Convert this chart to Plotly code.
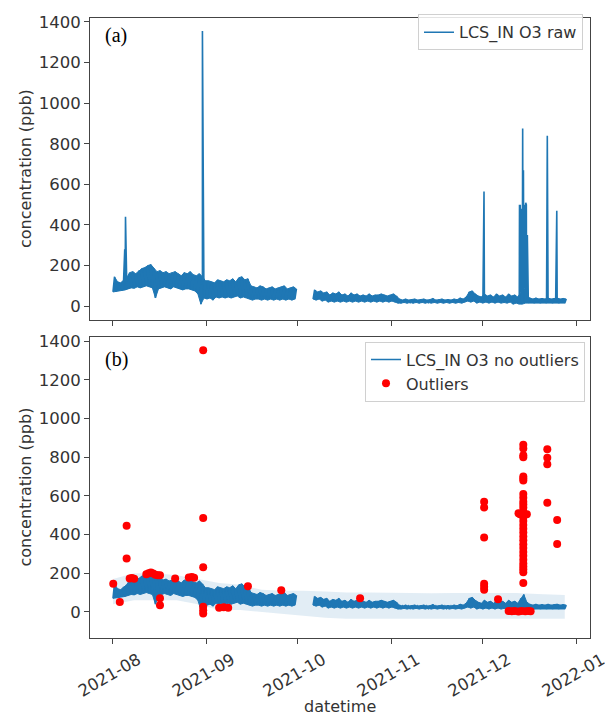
import pandas as pd
import plotly.graph_objects as go
from plotly.subplots import make_subplots

# ---------------- data ----------------
# daily low / high envelope of the noisy O3 signal
aug_lo = [70, 72, 75, 78, 80, 85, 90, 88, 95, 90, 95, 100, 95, 90, 40, 85, 90, 95, 90, 85,
          95, 90, 85, 80, 85, 85, 80, 75, 60, 10, 40]
aug_hi = [145, 120, 115, 130, 140, 165, 170, 160, 175, 185, 190, 200, 205, 185, 170, 175, 165, 170, 160, 165,
          170, 160, 150, 165, 160, 170, 155, 150, 160, 145, 125]
sep_lo = [35, 40, 30, 45, 40, 45, 40, 45, 40, 45, 50, 40, 45, 40, 35, 30, 35, 35, 30, 35,
          30, 35, 30, 35, 30, 35, 30, 35, 30, 35]
sep_hi = [125, 120, 115, 130, 125, 120, 130, 125, 135, 120, 140, 145, 130, 135, 100, 95, 90, 100, 95, 85,
          90, 95, 85, 90, 95, 100, 85, 90, 95, 85]
# Oct 6-31 (sensor gap Oct 1-5)
oct_lo = [35, 30, 35, 25, 30, 20, 25, 20, 25, 20, 25, 20, 25, 20, 25, 20, 25, 20, 25, 20, 25, 20, 25, 20, 25, 20]
oct_hi = [80, 70, 75, 65, 70, 55, 65, 60, 70, 55, 60, 50, 65, 55, 60, 50, 55, 50, 60, 50, 55, 55, 60, 55, 50, 55]
nov_lo = [25, 20, 15, 15, 18, 15, 18, 15, 18, 15, 18, 15, 18, 15, 18, 15, 18, 15, 18, 15,
          18, 15, 18, 15, 20, 25, 20, 25, 15, 20]
nov_hi = [60, 50, 35, 30, 35, 30, 32, 35, 30, 32, 35, 30, 32, 38, 30, 32, 35, 30, 33, 30,
          35, 32, 40, 35, 45, 70, 75, 60, 50, 45]
# Dec 1-28
dec_lo = [15, 20, 15, 20, 15, 20, 15, 18, 15, 20, 10, 15, 10, 10, 15, 15, 18, 15, 18, 15,
          18, 15, 18, 15, 18, 15, 18, 15]
dec_hi = [60, 50, 55, 45, 60, 50, 55, 45, 60, 50, 55, 45, 70, 90, 50, 40, 35, 40, 35, 38,
          35, 40, 35, 38, 40, 35, 38, 35]
seg1_start = "2021-08-01"
seg2_start = "2021-10-06"

# spikes present only in the raw series
spike_times = ["2021-08-04 21:00", "2021-08-05 03:00", "2021-08-30 12:00", "2021-12-01 09:00",
               "2021-12-13 02:00", "2021-12-13 05:00", "2021-12-13 08:00", "2021-12-13 16:00",
               "2021-12-13 20:00", "2021-12-14 03:00", "2021-12-14 06:00", "2021-12-14 09:00",
               "2021-12-14 14:00", "2021-12-14 18:00", "2021-12-14 21:00", "2021-12-15 03:00",
               "2021-12-15 08:00", "2021-12-15 10:00", "2021-12-15 16:00", "2021-12-22 06:00",
               "2021-12-25 09:00"]
spike_vals = [280, 440, 1355, 565,
              500, 20, 500, 480,
              25, 875, 30, 670,
              360, 500, 20, 510,
              500, 20, 350, 840,
              470]

# detected outliers
out_times = ["2021-08-01 02:00", "2021-08-03 06:00", "2021-08-05 12:00", "2021-08-05 12:00",
             "2021-08-06 12:00", "2021-08-07 06:00", "2021-08-08 00:00",
             "2021-08-12 00:00", "2021-08-12 18:00", "2021-08-13 12:00", "2021-08-14 06:00",
             "2021-08-15 00:00", "2021-08-15 18:00", "2021-08-16 12:00", "2021-08-16 12:00",
             "2021-08-16 12:00", "2021-08-21 12:00", "2021-08-26 00:00", "2021-08-27 00:00",
             "2021-08-27 18:00",
             "2021-08-30 18:00", "2021-08-30 18:00", "2021-08-30 18:00", "2021-08-30 18:00",
             "2021-08-30 18:00", "2021-08-30 18:00",
             "2021-09-05 00:00", "2021-09-06 12:00", "2021-09-08 00:00", "2021-09-14 12:00",
             "2021-09-25 12:00", "2021-10-21 12:00",
             "2021-12-01 10:00", "2021-12-01 10:00", "2021-12-01 10:00", "2021-12-01 10:00",
             "2021-12-01 10:00", "2021-12-01 10:00",
             "2021-12-06 00:00",
             "2021-12-09 12:00", "2021-12-10 12:00", "2021-12-11 12:00", "2021-12-12 18:00",
             "2021-12-13 18:00", "2021-12-15 00:00", "2021-12-16 00:00", "2021-12-16 18:00",
             "2021-12-22 06:00", "2021-12-22 06:00", "2021-12-22 06:00", "2021-12-22 06:00",
             "2021-12-25 12:00", "2021-12-25 12:00"]
out_vals = [146, 51, 445, 276,
            173, 175, 172,
            195, 200, 204, 198,
            192, 190, 189, 70,
            34, 173, 178, 180,
            176,
            1353, 485, 231, 26,
            8, -8,
            22, 24, 22, 132,
            112, 70,
            570, 540, 385, 146,
            130, 115,
            65,
            5, 3, 5, 2,
            4, 3, 5, 3,
            841, 797, 763, 565,
            475, 351]
# the dense column of outliers on 2021-12-14
col_time = "2021-12-14 08:00"
col_vals = [865, 845, 810, 800, 700, 690, 680, 610, 590, 570, 555, 540, 520, 509, 490, 470,
            450, 430, 410, 390, 370, 350, 330, 310, 290, 270, 250, 235, 220, 205, 150]
col_side_times = ["2021-12-13 06:00", "2021-12-15 12:00", "2021-12-12 18:00"]
col_side_vals = [505, 505, 510]

# smooth band around the cleaned series (lower / upper)
band_dates = ["2021-08-01", "2021-08-08", "2021-08-15", "2021-08-22", "2021-08-29", "2021-09-05",
              "2021-09-12", "2021-09-19", "2021-09-26", "2021-10-03", "2021-10-10", "2021-10-17",
              "2021-10-24", "2021-10-31", "2021-11-07", "2021-11-14", "2021-11-21", "2021-11-28",
              "2021-12-05", "2021-12-12", "2021-12-19", "2021-12-28"]
band_lo = [40, 60, 60, 60, 40, 10, 10, 0, -10, -20, -30, -35, -35, -35, -38, -38, -38, -38, -38, -36, -35, -35]
band_hi = [170, 200, 200, 190, 170, 150, 140, 115, 110, 110, 105, 100, 100, 98, 96, 96, 98, 98, 96, 98, 92, 88]

tick_vals = ["2021-08-01", "2021-09-01", "2021-10-01", "2021-11-01", "2021-12-01", "2022-01-01"]
tick_text = ["2021-08", "2021-09", "2021-10", "2021-11", "2021-12", "2022-01"]
y_ticks = [0, 200, 400, 600, 800, 1000, 1200, 1400]

# ---------------- build series ----------------
seg1_lo, seg1_hi = aug_lo + sep_lo, aug_hi + sep_hi
seg2_lo, seg2_hi = oct_lo + nov_lo + dec_lo, oct_hi + nov_hi + dec_hi


def zigzag(start, lo, hi):
    days = pd.date_range(start, periods=len(lo), freq="D")
    pts = []
    for d, a, b in zip(days, lo, hi):
        pts.append((d, a))
        pts.append((d + pd.Timedelta(hours=12), b))
    return pts


def envelope(start, lo, hi):
    days = pd.date_range(start, periods=len(lo), freq="D")
    return list(days), list(lo), [d + pd.Timedelta(hours=12) for d in days], list(hi)


seg1 = zigzag(seg1_start, seg1_lo, seg1_hi)
seg2 = zigzag(seg2_start, seg2_lo, seg2_hi)
spikes = [(pd.Timestamp(t), v) for t, v in zip(spike_times, spike_vals)]
gap_end = pd.Timestamp(seg2_start)
raw1 = sorted(seg1 + [p for p in spikes if p[0] < gap_end])
raw2 = sorted(seg2 + [p for p in spikes if p[0] >= gap_end])


def join(a, b):
    x = [p[0] for p in a] + [None] + [p[0] for p in b]
    y = [p[1] for p in a] + [None] + [p[1] for p in b]
    return x, y


raw_x, raw_y = join(raw1, raw2)
clean_x, clean_y = join(seg1, seg2)
envs = [envelope(seg1_start, seg1_lo, seg1_hi), envelope(seg2_start, seg2_lo, seg2_hi)]

ox = [pd.Timestamp(t) for t in out_times] + [pd.Timestamp(col_time)] * len(col_vals) + \
     [pd.Timestamp(t) for t in col_side_times]
oy = out_vals + col_vals + col_side_vals

BLUE = "#1f77b4"
TXT = "#333333"
FONT = "DejaVu Sans"

fig = make_subplots(rows=2, cols=1, shared_xaxes=False, vertical_spacing=0.03)


def add_envelope(row):
    for lx, ly, hx, hy in envs:
        fig.add_trace(go.Scatter(x=lx, y=ly, mode="lines", line=dict(color=BLUE, width=1),
                                 showlegend=False, hoverinfo="skip"), row=row, col=1)
        fig.add_trace(go.Scatter(x=hx, y=hy, mode="lines", line=dict(color=BLUE, width=1),
                                 fill="tonexty", fillcolor=BLUE,
                                 showlegend=False, hoverinfo="skip"), row=row, col=1)


# top panel
add_envelope(1)
fig.add_trace(go.Scatter(x=raw_x, y=raw_y, mode="lines",
                         line=dict(color=BLUE, width=1.6, simplify=False),
                         name="LCS_IN O3 raw", legend="legend"), row=1, col=1)

# bottom panel
fig.add_trace(go.Scatter(x=band_dates, y=band_lo, mode="lines", line=dict(width=0),
                         showlegend=False, hoverinfo="skip"), row=2, col=1)
fig.add_trace(go.Scatter(x=band_dates, y=band_hi, mode="lines", line=dict(width=0),
                         fill="tonexty", fillcolor="rgba(31,119,180,0.13)",
                         showlegend=False, hoverinfo="skip"), row=2, col=1)
add_envelope(2)
fig.add_trace(go.Scatter(x=clean_x, y=clean_y, mode="lines",
                         line=dict(color=BLUE, width=1.6, simplify=False),
                         name="LCS_IN O3 no outliers", legend="legend2"), row=2, col=1)
fig.add_trace(go.Scatter(x=ox, y=oy, mode="markers", marker=dict(color="#ff0000", size=8),
                         name="Outliers", legend="legend2"), row=2, col=1)

H_TOT = 624.0
top_dom = [1 - 304 / H_TOT, 1.0]
bot_dom = [0.0, 303 / H_TOT]
xr = ["2021-07-24 10:00", "2022-01-05 08:00"]

axis_common = dict(showline=True, linecolor="#444", linewidth=1, mirror=True, ticks="outside",
                   ticklen=5, tickcolor="#444", showgrid=False, zeroline=False,
                   tickfont=dict(family=FONT, size=16.5, color=TXT))

fig.update_xaxes(**axis_common, range=xr, tickvals=tick_vals, ticktext=tick_text)
fig.update_xaxes(showticklabels=False, row=1, col=1)
fig.update_xaxes(tickangle=-30, ticklabelshift=25, row=2, col=1)
fig.update_yaxes(**axis_common, tickvals=y_ticks)
fig.update_yaxes(range=[-68.5, 1419.6], domain=top_dom, row=1, col=1)
fig.update_yaxes(range=[-135, 1422], domain=bot_dom, row=2, col=1)

leg_common = dict(bgcolor="rgba(255,255,255,0.85)", bordercolor="#d0d0d0", borderwidth=1,
                  font=dict(family=FONT, size=16, color=TXT), xanchor="right", yanchor="top",
                  itemwidth=30, tracegroupgap=0)
title_font = dict(family=FONT, size=16, color=TXT)
# the page adds an 8 px body margin, so the figure is 8 px smaller than the window
fig.update_layout(
    width=605, height=709,
    margin=dict(l=82, r=23, t=6, b=79),
    paper_bgcolor="white", plot_bgcolor="white",
    legend=dict(**leg_common, x=0.986, y=1.006),
    legend2=dict(**leg_common, x=0.99, y=0.478),
    annotations=[
        dict(text="(a)", xref="paper", yref="paper", x=0.026, y=0.972, xanchor="left", yanchor="middle",
             showarrow=False, font=dict(family="Liberation Serif", size=20, color="black")),
        dict(text="(b)", xref="paper", yref="paper", x=0.026, y=0.4495, xanchor="left", yanchor="middle",
             showarrow=False, font=dict(family="Liberation Serif", size=20, color="black")),
        dict(text="concentration (ppb)", xref="paper", yref="paper", x=-0.13,
             y=(top_dom[0] + top_dom[1]) / 2, xanchor="center", yanchor="middle", textangle=-90,
             showarrow=False, font=title_font),
        dict(text="concentration (ppb)", xref="paper", yref="paper", x=-0.13,
             y=(bot_dom[0] + bot_dom[1]) / 2, xanchor="center", yanchor="middle", textangle=-90,
             showarrow=False, font=title_font),
        dict(text="datetime", xref="paper", yref="paper", x=0.5, y=-0.111, xanchor="center",
             yanchor="middle", showarrow=False, font=title_font),
    ],
)

fig.write_html("out.html")
